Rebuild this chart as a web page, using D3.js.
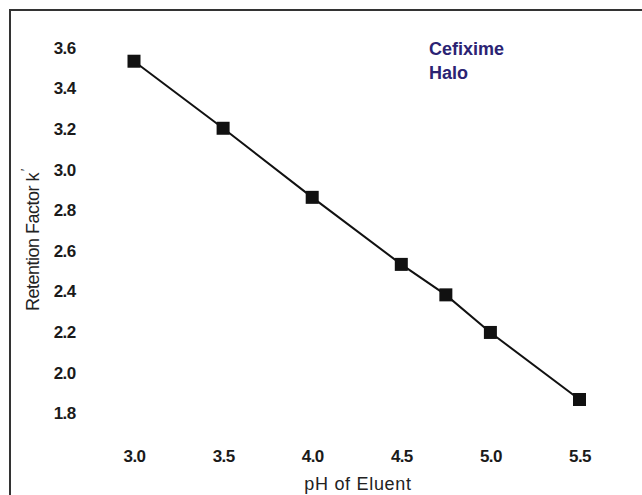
<!DOCTYPE html>
<html>
<head>
<meta charset="utf-8">
<script src="https://cdn.jsdelivr.net/npm/d3@7"></script>
<style>
  body { margin: 0; background: #fff; }
  svg { display: block; font-family: "Liberation Sans", Arial, sans-serif; }
</style>
</head>
<body>
<svg id="chart" width="642" height="495"></svg>
<script>
// pH of eluent vs retention factor k'
const ph = [3.0, 3.5, 4.0, 4.5, 4.75, 5.0, 5.5];
const retention = [3.53, 3.20, 2.86, 2.53, 2.38, 2.195, 1.865];
const xTicks = [3.0, 3.5, 4.0, 4.5, 5.0, 5.5];
const yTicks = [1.8, 2.0, 2.2, 2.4, 2.6, 2.8, 3.0, 3.2, 3.4, 3.6];
const legendLines = ["Cefixime", "Halo"];

const svg = d3.select("#chart");

// frame (runs off the right and bottom edges)
svg.append("rect")
    .attr("x", 10).attr("y", 10)
    .attr("width", 700).attr("height", 600)
    .attr("fill", "none")
    .attr("stroke", "#333")
    .attr("stroke-width", 2);

const x = d3.scaleLinear().domain([3.0, 5.5]).range([134, 579.5]);
const y = d3.scaleLinear().domain([1.8, 3.6]).range([412.7, 47]);

// axes: no lines, only labels
const xAxis = svg.append("g")
    .call(d3.axisBottom(x).tickValues(xTicks).tickSize(0).tickFormat(d3.format(".1f")));
xAxis.select(".domain").remove();
xAxis.selectAll("text")
    .attr("y", 461.5).attr("dy", 0)
    .attr("font-size", 17).attr("font-weight", "bold")
    .attr("font-family", "Liberation Sans, Arial, sans-serif")
    .attr("letter-spacing", -0.6)
    .attr("fill", "#1a1a1a");

const yAxis = svg.append("g")
    .call(d3.axisLeft(y).tickValues(yTicks).tickSize(0).tickFormat(d3.format(".1f")));
yAxis.select(".domain").remove();
yAxis.selectAll("text")
    .attr("x", 75.5).attr("dy", "0.36em")
    .attr("font-size", 17).attr("font-weight", "bold")
    .attr("font-family", "Liberation Sans, Arial, sans-serif")
    .attr("letter-spacing", -0.6)
    .attr("fill", "#1a1a1a");

// axis titles
svg.append("text")
    .attr("x", 358).attr("y", 490)
    .attr("text-anchor", "middle")
    .attr("font-size", 18)
    .attr("letter-spacing", 0.7)
    .attr("fill", "#222")
    .text("pH of Eluent");

const yTitle = svg.append("text")
    .attr("transform", "translate(39,311) rotate(-90)")
    .attr("text-anchor", "start")
    .attr("font-size", 18)
    .attr("letter-spacing", -0.5)
    .attr("fill", "#222");
yTitle.append("tspan").text("Retention Factor k");
yTitle.append("tspan").attr("dy", -9).attr("dx", 2).attr("font-size", 12).text("\u2032");

// data line + markers
const pts = ph.map((p, i) => [p, retention[i]]);
svg.append("path")
    .datum(pts)
    .attr("fill", "none")
    .attr("stroke", "#111")
    .attr("stroke-width", 2)
    .attr("d", d3.line().x(d => x(d[0])).y(d => y(d[1])));

svg.selectAll("rect.pt")
    .data(pts)
    .join("rect")
    .attr("class", "pt")
    .attr("x", d => x(d[0]) - 6.5)
    .attr("y", d => y(d[1]) - 6.5)
    .attr("width", 13).attr("height", 13)
    .attr("fill", "#111");

// legend text
svg.append("text")
    .attr("x", 429).attr("y", 55)
    .attr("font-size", 18).attr("font-weight", "bold")
    .attr("fill", "#2b2373")
    .selectAll("tspan")
    .data(legendLines)
    .join("tspan")
    .attr("x", 429)
    .attr("dy", (d, i) => i ? 24 : 0)
    .text(d => d);
</script>
</body>
</html>
